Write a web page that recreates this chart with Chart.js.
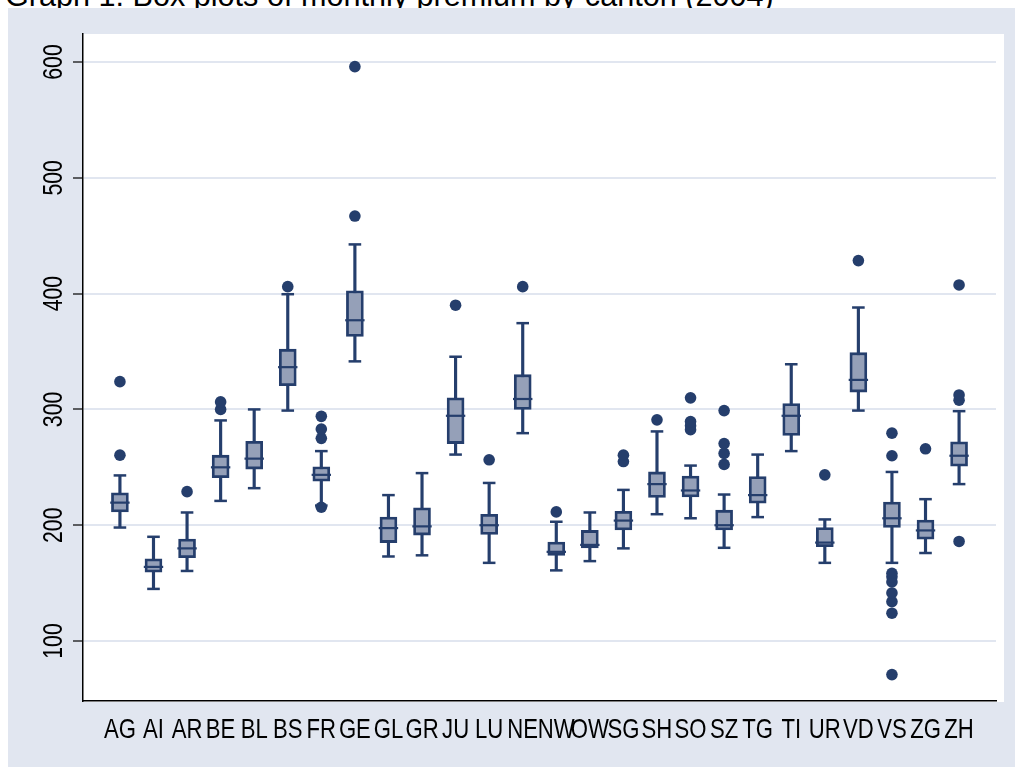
<!DOCTYPE html>
<html>
<head>
<meta charset="utf-8">
<script src="https://cdn.jsdelivr.net/npm/chart.js@4.4.1/dist/chart.umd.min.js"></script>
<style>
  body { margin: 0; background: #fff; width: 1015px; height: 767px; overflow: hidden; position: relative; }
  #title { position: absolute; left: 5px; top: -22px; font: 30.6px Arial, "Liberation Sans", sans-serif; color: #000; white-space: nowrap; }
  #panel { position: absolute; left: 8px; top: 8px; width: 1007px; height: 759px; background: #E1E6F0; }
</style>
</head>
<body>
<div id="title">Graph 1: Box plots of monthly premium by canton (2004)</div>
<div id="panel"><canvas id="chart-1" width="1007" height="759"></canvas></div>
<script>
// canton codes
var cantons = ["AG","AI","AR","BE","BL","BS","FR","GE","GL","GR","JU","LU","NE",
               "NW","OW","SG","SH","SO","SZ","TG","TI","UR","VD","VS","ZG","ZH"];

// box plot stats (CHF per month)
var whiskerLow  = [198, 145, 160.5, 221, 232, 299, 217, 341.5, 173, 174, 261, 167.5, 279.5,
                   161, 169, 180, 209.5, 206, 180.5, 207, 264, 167.5, 299, 167.5, 176, 235.5];
var q1          = [211.5, 159.5, 172, 241, 248.5, 320.5, 238, 363, 185, 191.5, 270.5, 192, 300,
                   174, 180.5, 196, 224, 224.5, 196, 219, 277.5, 181.5, 315, 198, 188, 251];
var median      = [219.5, 164, 180, 250, 257.5, 336.5, 243.5, 377, 197.5, 199, 294.5, 200, 309,
                   177, 183, 204, 235.5, 230, 200, 226, 294.5, 185, 325.5, 206, 195.5, 260];
var q3          = [228, 171, 188, 260.5, 272.5, 352, 250.5, 402.5, 207, 215, 310, 209.5, 330,
                   185.5, 195.5, 212, 246, 242.5, 213, 242, 305, 198, 349, 220, 204.5, 272];
var whiskerHigh = [243, 190, 211, 290.5, 300, 399.5, 264, 442.5, 226, 245, 345.5, 236.5, 374.5,
                   203, 211, 230.5, 281, 251.5, 226.5, 261, 339, 205, 388, 246, 222.5, 298.5];
var outliers = [
  [260.5, 324], [], [229], [300, 306.5], [], [406], [215.5, 275, 283, 294],
  [467, 596], [], [], [390], [256.5], [406],
  [211.5], [], [255, 260.5], [291], [282.5, 286, 289.5, 310], [252.5, 262, 270.5, 299],
  [], [], [243.5], [428.5], [71, 124, 134, 141.5, 151, 155.5, 158.5, 260, 279.5],
  [266], [186, 308, 312.5, 407.5]
];
var yTicks = [100, 200, 300, 400, 500, 600];

var navy = '#253E6C';
var boxFill = '#95A0B8';

// white plot region + rotated y labels + squeezed x labels (Stata look)
var stataPlugin = {
  id: 'stata',
  beforeDraw: function(chart) {
    var a = chart.chartArea, ctx = chart.ctx;
    ctx.save();
    ctx.fillStyle = '#fff';
    ctx.fillRect(a.left, a.top, a.right - a.left + 8, a.bottom - a.top + 1);
    ctx.restore();
  },
  afterDraw: function(chart) {
    var ctx = chart.ctx, a = chart.chartArea;
    var ys = chart.scales.y, xs = chart.scales.x;
    ctx.save();
    ctx.fillStyle = '#000';
    ctx.font = '28px Arial, "Liberation Sans", sans-serif';
    ctx.textAlign = 'center';
    ctx.textBaseline = 'alphabetic';
    yTicks.forEach(function(t) {
      ctx.save();
      ctx.translate(a.left - 21, ys.getPixelForValue(t));
      ctx.rotate(-Math.PI / 2);
      ctx.scale(0.76, 1);
      ctx.fillText(String(t), 0, 0);
      ctx.restore();
    });
    cantons.forEach(function(c, i) {
      ctx.save();
      ctx.translate(xs.getPixelForValue(i), a.bottom + 37);
      ctx.scale(0.79, 1);
      ctx.fillText(c, 0, 0);
      ctx.restore();
    });
    ctx.restore();
  }
};

if (document.getElementById("chart-1")) {
  new Chart(document.getElementById("chart-1"), {
    type: 'bar',
    data: {
      datasets: [
        {
          label: 'whiskers',
          type: 'bar',
          data: cantons.map(function(c, i) { return {x: i, y: [whiskerLow[i], whiskerHigh[i]]}; }),
          backgroundColor: navy,
          borderWidth: 0,
          barThickness: 2.5,
          grouped: false,
          order: 4
        },
        {
          label: 'caps',
          type: 'scatter',
          data: cantons.flatMap(function(c, i) { return [{x: i, y: whiskerLow[i]}, {x: i, y: whiskerHigh[i]}]; }),
          pointStyle: 'line',
          pointRadius: 6.3,
          borderColor: navy,
          borderWidth: 2.5,
          order: 3
        },
        {
          label: 'box',
          type: 'bar',
          data: cantons.map(function(c, i) { return {x: i, y: [q1[i], q3[i]]}; }),
          backgroundColor: boxFill,
          borderColor: navy,
          borderWidth: 2.8,
          borderSkipped: false,
          barThickness: 17,
          grouped: false,
          order: 2
        },
        {
          label: 'median',
          type: 'scatter',
          data: cantons.map(function(c, i) { return {x: i, y: median[i]}; }),
          pointStyle: 'line',
          pointRadius: 9.7,
          borderColor: navy,
          borderWidth: 2.2,
          order: 1
        },
        {
          label: 'outside values',
          type: 'scatter',
          data: cantons.flatMap(function(c, i) { return outliers[i].map(function(v) { return {x: i, y: v}; }); }),
          pointStyle: 'circle',
          pointRadius: 5.8,
          backgroundColor: navy,
          borderWidth: 0,
          order: 0
        }
      ]
    },
    options: {
      responsive: false,
      animation: false,
      layout: { padding: { left: 0, top: 26, right: 19, bottom: 0 } },
      plugins: {
        legend: { display: false },
        tooltip: { enabled: false },
        title: { display: false }
      },
      scales: {
        x: {
          type: 'linear',
          min: -1.1,
          max: 26.1,
          offset: false,
          grid: { display: false },
          ticks: { display: false },
          border: { color: '#000', width: 1.5 },
          afterFit: function(s) { s.height = 66; }
        },
        y: {
          min: 48.2,
          max: 624.2,
          ticks: { display: false, stepSize: 100, includeBounds: false },
          grid: { color: '#E1E6F0', lineWidth: 2, drawTicks: true, tickLength: 10, tickColor: '#000', tickWidth: 1.2 },
          border: { color: '#000', width: 1.5 },
          afterFit: function(s) { s.width = 75; }
        }
      }
    },
    plugins: [stataPlugin]
  });
}
</script>
</body>
</html>
